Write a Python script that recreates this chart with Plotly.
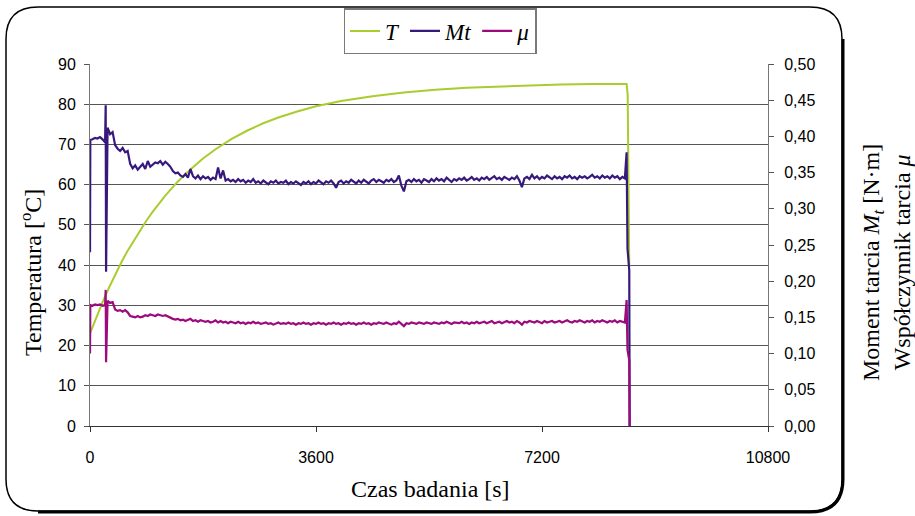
import plotly.graph_objects as go

# ---- data -----------------------------------------------------------------
time_T = [0, 100, 200, 300, 400, 500, 600, 700, 800, 900, 1000, 1200, 1400,
          1600, 1800, 2000, 2250, 2500, 2750, 3000, 3300, 3600, 4000, 4500,
          5000, 5500, 6000, 6500, 7000, 7500, 8000, 8548, 8565, 8590]
temp_T = [23.0, 27.0, 30.8, 34.3, 37.6, 40.7, 43.6, 46.2, 48.8, 51.1, 53.3,
          57.3, 60.8, 63.8, 66.5, 68.8, 71.3, 73.4, 75.2, 76.7, 78.2, 79.5,
          80.8, 82.0, 82.9, 83.6, 84.1, 84.4, 84.7, 84.9, 85.0, 85.0, 82.3,
          39.5]

# time of the torque / friction samples [s]
time_M = ([0, 5, 40, 80, 120, 160, 200, 240, 250, 256]
          + list(range(280, 8521, 40))
          + [8548, 8562, 8590, 8596])

moment_Mt = [
    0.240, 0.395, 0.396, 0.398, 0.397, 0.399, 0.396, 0.392, 0.443, 0.213,
    0.412, 0.403, 0.406, 0.388, 0.383, 0.380, 0.384, 0.378, 0.380, 0.362,
    0.356, 0.360, 0.354, 0.358, 0.362, 0.355, 0.366, 0.358, 0.361, 0.364,
    0.363, 0.366, 0.361, 0.365, 0.362, 0.358, 0.352, 0.349, 0.350, 0.346,
    0.344, 0.348, 0.343, 0.355, 0.345, 0.342, 0.346, 0.341, 0.345, 0.342,
    0.344, 0.340, 0.343, 0.341, 0.357, 0.342, 0.353, 0.339, 0.341, 0.338,
    0.340, 0.337, 0.341, 0.338, 0.340, 0.336, 0.339, 0.337, 0.341, 0.336,
    0.338, 0.335, 0.339, 0.337, 0.334, 0.338, 0.336, 0.339, 0.335, 0.337,
    0.336, 0.339, 0.334, 0.337, 0.335, 0.338, 0.336, 0.333, 0.337, 0.335,
    0.338, 0.334, 0.337, 0.335, 0.339, 0.336, 0.334, 0.338, 0.336, 0.339,
    0.335, 0.329, 0.337, 0.339, 0.335, 0.338, 0.336, 0.340, 0.337, 0.335,
    0.339, 0.336, 0.340, 0.337, 0.335, 0.339, 0.341, 0.337, 0.340, 0.338,
    0.336, 0.340, 0.338, 0.341, 0.337, 0.339, 0.346, 0.332, 0.324, 0.338,
    0.340, 0.337, 0.341, 0.338, 0.340, 0.336, 0.341, 0.339, 0.337, 0.341,
    0.338, 0.342, 0.339, 0.341, 0.338, 0.343, 0.340, 0.337, 0.341, 0.339,
    0.342, 0.340, 0.343, 0.339, 0.341, 0.344, 0.340, 0.342, 0.339, 0.343,
    0.341, 0.344, 0.340, 0.342, 0.345, 0.341, 0.343, 0.340, 0.344, 0.342,
    0.340, 0.343, 0.341, 0.345, 0.339, 0.330, 0.342, 0.344, 0.341, 0.347,
    0.342, 0.345, 0.341, 0.344, 0.342, 0.346, 0.343, 0.341, 0.345, 0.342,
    0.344, 0.341, 0.345, 0.343, 0.346, 0.342, 0.344, 0.341, 0.345, 0.343,
    0.345, 0.342, 0.344, 0.347, 0.343, 0.345, 0.342, 0.346, 0.343, 0.345,
    0.342, 0.346, 0.343, 0.345, 0.341, 0.344, 0.342,
    0.378, 0.245, 0.215, 0.0]

friction_mu = [
    0.100, 0.167, 0.166, 0.168, 0.167, 0.168, 0.166, 0.167, 0.188, 0.088,
    0.173, 0.170, 0.171, 0.161, 0.159, 0.160, 0.158, 0.160, 0.157, 0.152,
    0.151, 0.150, 0.152, 0.150, 0.151, 0.153, 0.152, 0.154, 0.153, 0.152,
    0.154, 0.153, 0.152, 0.153, 0.151, 0.149, 0.148, 0.147, 0.148, 0.146,
    0.147, 0.145, 0.146, 0.148, 0.145, 0.146, 0.144, 0.146, 0.145, 0.144,
    0.145, 0.143, 0.144, 0.146, 0.143, 0.145, 0.143, 0.144, 0.142, 0.144,
    0.143, 0.142, 0.144, 0.142, 0.143, 0.141, 0.143, 0.142, 0.144, 0.142,
    0.143, 0.141, 0.142, 0.143, 0.141, 0.142, 0.140, 0.142, 0.143, 0.141,
    0.142, 0.141, 0.143, 0.141, 0.142, 0.140, 0.142, 0.141, 0.143, 0.141,
    0.142, 0.140, 0.142, 0.141, 0.143, 0.141, 0.142, 0.140, 0.142, 0.141,
    0.143, 0.141, 0.142, 0.140, 0.142, 0.141, 0.143, 0.141, 0.142, 0.140,
    0.142, 0.141, 0.143, 0.141, 0.142, 0.140, 0.142, 0.141, 0.143, 0.142,
    0.141, 0.143, 0.142, 0.140, 0.142, 0.141, 0.144, 0.141, 0.138, 0.142,
    0.141, 0.143, 0.142, 0.141, 0.143, 0.142, 0.141, 0.143, 0.142, 0.141,
    0.143, 0.142, 0.141, 0.143, 0.142, 0.144, 0.142, 0.141, 0.143, 0.142,
    0.142, 0.144, 0.142, 0.143, 0.141, 0.143, 0.142, 0.144, 0.142, 0.143,
    0.144, 0.142, 0.143, 0.145, 0.142, 0.143, 0.144, 0.142, 0.143, 0.145,
    0.143, 0.144, 0.142, 0.145, 0.143, 0.140, 0.144, 0.143, 0.145, 0.144,
    0.143, 0.145, 0.144, 0.142, 0.145, 0.143, 0.144, 0.145, 0.143, 0.144,
    0.145, 0.143, 0.144, 0.146, 0.144, 0.143, 0.145, 0.144, 0.146, 0.144,
    0.143, 0.145, 0.144, 0.146, 0.143, 0.145, 0.144, 0.146, 0.145, 0.143,
    0.145, 0.144, 0.146, 0.143, 0.145, 0.144, 0.143,
    0.174, 0.105, 0.091, 0.0]

x_ticks = [0, 3600, 7200, 10800]
x_ticktext = ["0", "3600", "7200", "10800"]

# ---- layout constants (pixels) ---------------------------------------------
W, H = 915, 516
ML, MR, MT, MB = 90, 147, 64, 90
PW, PH = W - ML - MR, H - MT - MB

def px(x):
    return (x - ML) / PW

def py(y):
    return (H - MB - y) / PH

SANS = "Liberation Sans, Arial, sans-serif"
SERIF = "Liberation Serif, Times New Roman, serif"
GRID = "#555555"

fig = go.Figure()
fig.add_trace(go.Scatter(x=time_T, y=temp_T, name="<i>T</i>", mode="lines",
                         line=dict(color="#A9CC2E", width=2)))
fig.add_trace(go.Scatter(x=time_M, y=moment_Mt, name="<i>Mt</i>", mode="lines",
                         yaxis="y2", line=dict(color="#37197D", width=2.2)))
fig.add_trace(go.Scatter(x=time_M, y=friction_mu, name="<i>μ</i>", mode="lines",
                         yaxis="y2", line=dict(color="#9C0A7D", width=2.2)))

fig.update_layout(
    width=W, height=H,
    margin=dict(l=ML, r=MR, t=MT, b=MB, autoexpand=False),
    paper_bgcolor="white", plot_bgcolor="white",
    separators=", ",
    showlegend=True,
    legend=dict(orientation="h", xref="container", yref="container",
                x=440 / W, xanchor="center", y=1 - 8 / H, yanchor="top",
                bordercolor="#7a7a7a", borderwidth=1.5, bgcolor="white",
                font=dict(family=SERIF, size=23, color="black"),
                itemwidth=30, tracegroupgap=0, entrywidth=0),
    xaxis=dict(range=[0, 10800], tickvals=x_ticks, ticktext=x_ticktext,
               ticks="outside", ticklen=5, tickcolor="#333",
               showline=True, linecolor="#333", linewidth=1,
               showgrid=False, zeroline=False, ticklabelstandoff=12,
               tickfont=dict(family=SANS, size=16, color="black")),
    yaxis=dict(range=[0, 90], dtick=10, ticks="outside", ticklen=5,
               tickcolor="#555", showline=True, linecolor="#777",
               showgrid=True, gridcolor=GRID, gridwidth=1, zeroline=False,
               ticklabelstandoff=5,
               tickfont=dict(family=SANS, size=16, color="black")),
    yaxis2=dict(range=[0, 0.5], dtick=0.05, tickformat=".2f",
                overlaying="y", side="right", ticks="outside", ticklen=5,
                tickcolor="#555", showline=True, linecolor="#777",
                showgrid=False, zeroline=False, ticklabelstandoff=7,
                tickfont=dict(family=SANS, size=16, color="black")),
)

title_font = dict(family=SERIF, size=24, color="black")
fig.add_annotation(text="Czas badania [s]", xref="paper", yref="paper",
                   x=px(430), y=py(489), showarrow=False,
                   xanchor="center", yanchor="middle", font=title_font)
fig.add_annotation(text="Temperatura [<sup>o</sup>C]", xref="paper", yref="paper",
                   x=px(31), y=py(272), textangle=-90, showarrow=False,
                   xanchor="center", yanchor="middle", font=title_font)
fig.add_annotation(text="Moment tarcia <i>M<sub>t</sub></i> [N·m]<br>"
                        "Współczynnik tarcia <i>μ</i>",
                   xref="paper", yref="paper", x=px(886), y=py(262),
                   textangle=-90, showarrow=False, xanchor="center",
                   yanchor="middle", font=title_font)

# rounded outer frame with a heavier right/bottom edge
x0, y0, x1, y1, r = 6, 7, 842, 511, 32
frame = (f"M {px(x0 + r)},{py(y0)} L {px(x1 - r)},{py(y0)} "
         f"Q {px(x1)},{py(y0)} {px(x1)},{py(y0 + r)} "
         f"L {px(x1)},{py(y1 - r)} Q {px(x1)},{py(y1)} {px(x1 - r)},{py(y1)} "
         f"L {px(x0 + r)},{py(y1)} Q {px(x0)},{py(y1)} {px(x0)},{py(y1 - r)} "
         f"L {px(x0)},{py(y0 + r)} Q {px(x0)},{py(y0)} {px(x0 + r)},{py(y0)} Z")
shadow = (f"M {px(x1 + 1)},{py(y0 + r)} L {px(x1 + 1)},{py(y1 - r)} "
          f"Q {px(x1 + 1)},{py(y1 + 1)} {px(x1 - r)},{py(y1 + 1)} "
          f"L {px(x0 + r)},{py(y1 + 1)}")
fig.add_shape(type="path", path=frame, xref="paper", yref="paper",
              line=dict(color="black", width=1.5), layer="below")
fig.add_shape(type="path", path=shadow, xref="paper", yref="paper",
              line=dict(color="black", width=3), layer="below")

# the page's default 8px body margin would shift the whole chart
fig.write_html("out.html", config={"displayModeBar": False},
               post_script="document.body.style.margin='0';")
